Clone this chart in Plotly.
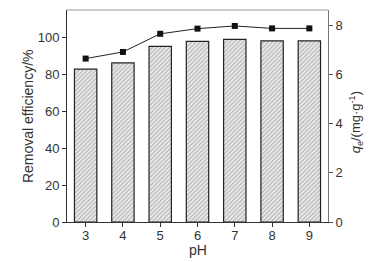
import plotly.graph_objects as go

ph = [3, 4, 5, 6, 7, 8, 9]
removal = [82.9, 86.3, 95.3, 98.0, 99.1, 98.2, 98.2]
qe = [6.66, 6.93, 7.67, 7.88, 7.99, 7.89, 7.89]
left_ticks = [0, 20, 40, 60, 80, 100]
right_ticks = [0, 2, 4, 6, 8]

fig = go.Figure()
fig.add_trace(go.Bar(
    x=ph, y=removal, width=0.6,
    marker=dict(color="white", line=dict(color="#222", width=1.2),
                pattern=dict(shape="/", fgcolor="#777", bgcolor="#eeeeee", size=3, solidity=0.4)),
    yaxis="y", showlegend=False))
fig.add_trace(go.Scatter(
    x=ph, y=qe, mode="lines+markers", yaxis="y2",
    line=dict(color="#222", width=1),
    marker=dict(symbol="square", size=6, color="#111"),
    showlegend=False))

fam = "Liberation Sans, Arial, sans-serif"
tickfont = dict(family=fam, size=13, color="#333")
titlefont = dict(family=fam, size=14, color="#333")
common = dict(ticks="outside", ticklen=4, showline=True, linewidth=1,
              showgrid=False, zeroline=False, automargin=False, tickfont=tickfont)
fig.update_layout(
    width=377, height=262,
    margin=dict(l=67, r=49, t=10, b=40),
    paper_bgcolor="white", plot_bgcolor="white",
    font=titlefont,
    bargap=0.4,
    xaxis=dict(range=[2.5, 9.5], tickvals=ph, linecolor="#333", tickcolor="#333",
               ticklabelstandoff=-3, **common),
    yaxis=dict(range=[0, 115], tickvals=left_ticks, linecolor="#333", tickcolor="#333", **common),
    yaxis2=dict(range=[0, 8.64], tickvals=right_ticks, overlaying="y", side="right",
                linecolor="#777", tickcolor="#555", **common),
    shapes=[dict(type="line", xref="paper", yref="paper", x0=0, x1=1, y0=1, y1=1,
                 line=dict(color="#999", width=1))],
    annotations=[
        dict(text="pH", xref="paper", yref="paper", x=0.5, y=-0.132, showarrow=False,
             xanchor="center", yanchor="middle", font=titlefont),
        dict(text="Removal efficiency/%", xref="paper", yref="paper", x=-0.149, y=0.5,
             textangle=-90, showarrow=False, xanchor="center", yanchor="middle", font=titlefont),
        dict(text="<i>q</i><sub>e</sub>/(mg·g<sup>-1</sup>)", xref="paper", yref="paper",
             x=1.107, y=0.47, textangle=-90, showarrow=False, xanchor="center", yanchor="middle",
             font=dict(family=fam, size=13, color="#333")),
    ],
)
fig.write_html("out.html", config={"displayModeBar": False},
               post_script="document.body.style.margin='0';document.body.style.padding='0';")
